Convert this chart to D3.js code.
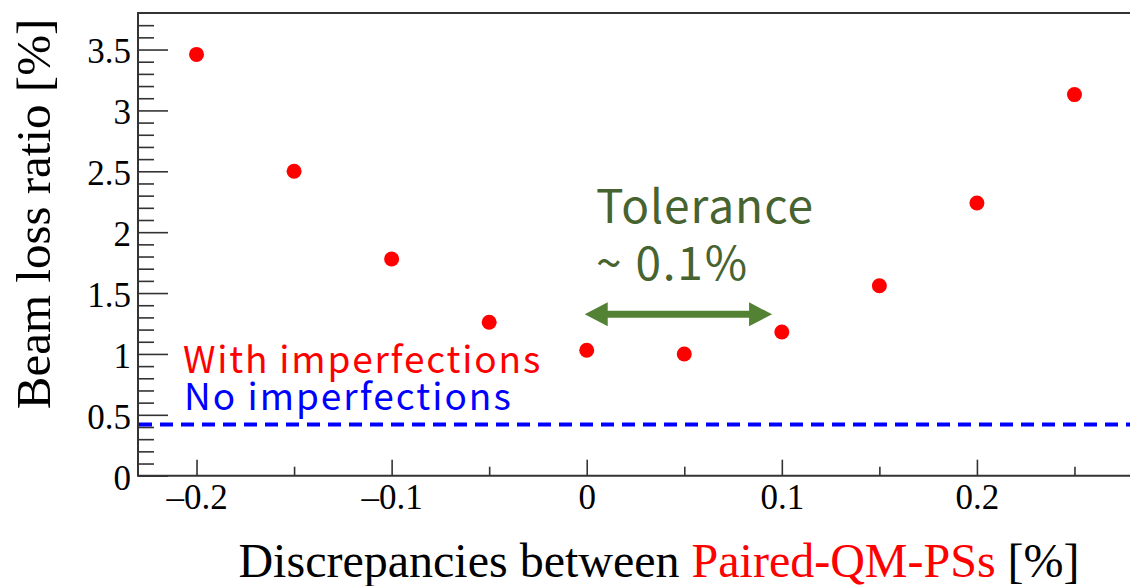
<!DOCTYPE html>
<html>
<head>
<meta charset="utf-8">
<script src="https://cdn.jsdelivr.net/npm/d3@7"></script>
<style>
  html, body { margin: 0; padding: 0; background: #fff; }
  svg { display: block; }
</style>
</head>
<body>
<div id="chart"></div>
<script>
// discrepancy values [%] and beam loss ratio [%]
const discrepancies = [-0.2, -0.15, -0.1, -0.05, 0, 0.05, 0.1, 0.15, 0.2, 0.25];
const lossWithImperfections = [3.46, 2.50, 1.78, 1.26, 1.03, 1.00, 1.18, 1.56, 2.24, 3.13];
const lossNoImperfections = 0.42;

// tolerance arrow span [%] and the level where it sits
const toleranceSpan = [0, 0.095];
const toleranceLevel = 1.325;

const xMajorTicks = [-0.2, -0.1, 0, 0.1, 0.2];
const xMajorLabels = ['\u20130.2', '\u20130.1', '0', '0.1', '0.2'];
const xMinorTicks = [-0.15, -0.05, 0.05, 0.15, 0.25];
const yMajorTicks = [0, 0.5, 1, 1.5, 2, 2.5, 3, 3.5];
const yMajorLabels = ['0', '0.5', '1', '1.5', '2', '2.5', '3', '3.5'];

const width = 1130, height = 586;
const plotLeft = 138, plotTop = 13, plotRight = 1133, plotBottom = 475.7;

const serif = '"Liberation Serif", "Times New Roman", serif';
const sans = '"Noto Sans CJK JP", "Noto Sans", sans-serif';
const green = '#548235';

const svg = d3.select('#chart')
	.append('svg')
	.attr('width', width)
	.attr('height', height);

// ----------------------------------
// SCALES
// ----------------------------------

const x = d3.scaleLinear()
	.domain([-0.23, 0.28])
	.range([plotLeft, plotRight]);

const y = d3.scaleLinear()
	.domain([0, 3.8])
	.range([plotBottom, plotTop]);

// ----------------------------------
// AXES (ticks point inwards)
// ----------------------------------

const yMinor = d3.range(0, 3.75, 0.1).map(v => +v.toFixed(1))
	.filter(v => !yMajorTicks.includes(v));

svg.append('g')
	.attr('transform', `translate(${plotLeft},0)`)
	.call(d3.axisLeft(y).tickValues(yMinor).tickSize(-16).tickFormat(''))
	.call(g => g.select('.domain').remove())
	.call(g => g.selectAll('line').attr('stroke', '#333').attr('stroke-width', 1.6));

svg.append('g')
	.attr('transform', `translate(${plotLeft},0)`)
	.call(d3.axisLeft(y).tickValues(yMajorTicks).tickSize(-30).tickPadding(7)
		.tickFormat((d, i) => yMajorLabels[i]))
	.call(g => g.select('.domain').remove())
	.call(g => g.selectAll('line').attr('stroke', '#333').attr('stroke-width', 1.6))
	.call(g => g.selectAll('text')
		.attr('fill', '#000')
		.attr('dy', '0.38em')
		.style('font-family', serif)
		.style('font-size', '35px'));

svg.append('g')
	.attr('transform', `translate(0,${plotBottom})`)
	.call(d3.axisBottom(x).tickValues(xMinorTicks).tickSize(-9).tickFormat(''))
	.call(g => g.select('.domain').remove())
	.call(g => g.selectAll('line').attr('stroke', '#333').attr('stroke-width', 1.6));

svg.append('g')
	.attr('transform', `translate(0,${plotBottom})`)
	.call(d3.axisBottom(x).tickValues(xMajorTicks).tickSize(-16).tickPadding(8)
		.tickFormat((d, i) => xMajorLabels[i]))
	.call(g => g.select('.domain').remove())
	.call(g => g.selectAll('line').attr('stroke', '#333').attr('stroke-width', 1.6))
	.call(g => g.selectAll('text')
		.attr('fill', '#000')
		.attr('dy', '0.72em')
		.style('font-family', serif)
		.style('font-size', '35px'));

// frame: left, top, bottom
svg.append('path')
	.attr('d', `M${width},${plotTop}H${plotLeft}V${plotBottom}H${width}`)
	.attr('fill', 'none')
	.attr('stroke', '#333')
	.attr('stroke-width', 2);

// ----------------------------------
// DATA
// ----------------------------------

svg.append('line')
	.attr('x1', plotLeft + 1)
	.attr('x2', width)
	.attr('y1', y(lossNoImperfections))
	.attr('y2', y(lossNoImperfections))
	.attr('stroke', '#0000ff')
	.attr('stroke-width', 4)
	.attr('stroke-dasharray', '13 8');

svg.append('g')
	.selectAll('circle')
	.data(discrepancies)
	.enter()
	.append('circle')
	.attr('cx', d => x(d))
	.attr('cy', (d, i) => y(lossWithImperfections[i]))
	.attr('r', 7.5)
	.attr('fill', '#ff0000');

// ----------------------------------
// ANNOTATIONS
// ----------------------------------

svg.append('text')
	.attr('x', 183)
	.attr('y', 373)
	.attr('fill', '#ff0000')
	.style('font-family', sans)
	.style('font-size', '37px')
	.style('letter-spacing', '1.8px')
	.text('With imperfections');

svg.append('text')
	.attr('x', 184)
	.attr('y', 410)
	.attr('fill', '#0000ff')
	.style('font-family', sans)
	.style('font-size', '37px')
	.style('letter-spacing', '2px')
	.text('No imperfections');

svg.append('text')
	.attr('x', 596)
	.attr('y', 223)
	.attr('fill', '#476330')
	.style('font-family', sans)
	.style('font-size', '46px')
	.style('letter-spacing', '1px')
	.text('Tolerance');

svg.append('text')
	.attr('x', 596)
	.attr('y', 280)
	.attr('fill', '#476330')
	.style('font-family', sans)
	.style('font-size', '46px')
	.style('letter-spacing', '1.8px')
	.text('~ 0.1%');

// double headed arrow
const ax0 = x(toleranceSpan[0]) - 2, ax1 = x(toleranceSpan[1]), ay = y(toleranceLevel);
const head = 23, headHalf = 12, shaftHalf = 3.5;
svg.append('path')
	.attr('d', [
		`M${ax0},${ay}`,
		`L${ax0 + head},${ay - headHalf}`,
		`L${ax0 + head},${ay - shaftHalf}`,
		`L${ax1 - head},${ay - shaftHalf}`,
		`L${ax1 - head},${ay - headHalf}`,
		`L${ax1},${ay}`,
		`L${ax1 - head},${ay + headHalf}`,
		`L${ax1 - head},${ay + shaftHalf}`,
		`L${ax0 + head},${ay + shaftHalf}`,
		`L${ax0 + head},${ay + headHalf}`,
		'Z'
	].join(''))
	.attr('fill', green);

// ----------------------------------
// AXIS TITLES
// ----------------------------------

const xTitle = svg.append('text')
	.attr('x', 659)
	.attr('y', 577)
	.attr('text-anchor', 'middle')
	.attr('fill', '#000')
	.style('font-family', serif)
	.style('font-size', '48px');
xTitle.append('tspan').text('Discrepancies between ');
xTitle.append('tspan').attr('fill', '#ff0000').text('Paired-QM-PSs');
xTitle.append('tspan').text(' [%]');

svg.append('text')
	.attr('transform', 'translate(50,214) rotate(-90)')
	.attr('text-anchor', 'middle')
	.attr('fill', '#000')
	.style('font-family', serif)
	.style('font-size', '49px')
	.text('Beam loss ratio [%]');
</script>
</body>
</html>
